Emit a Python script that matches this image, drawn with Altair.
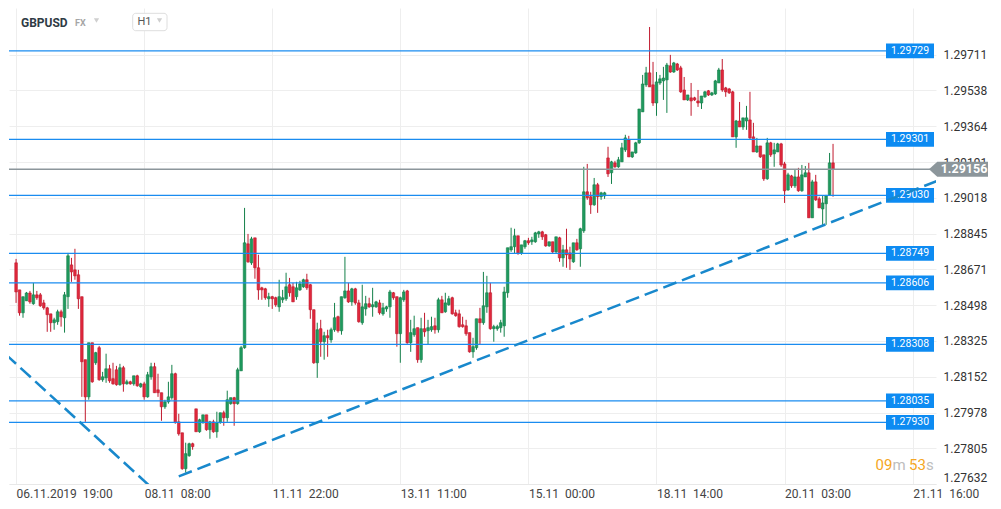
import altair as alt
import pandas as pd

# ---------------- data (GBPUSD H1 candles) ----------------
opens = [1.28703,1.28572,1.28461,1.28519,1.28557,1.28505,1.28548,1.28548,1.28509,1.28485,
1.28456,1.28413,1.28418,1.28466,1.28437,1.28539,1.28693,1.28669,1.28645,1.28539,
1.28234,1.28054,1.28316,1.28219,1.28292,1.28137,1.28146,1.28190,1.28142,1.28185,
1.28113,1.28195,1.28117,1.28127,1.28117,1.28156,1.28103,1.28117,1.28054,1.28151,
1.28200,1.28088,1.28074,1.28006,1.28030,1.28050,1.28166,1.27933,1.27880,1.27706,
1.27769,1.27827,1.27996,1.27885,1.27929,1.27967,1.27895,1.27933,1.27885,1.27929,
1.27977,1.27953,1.28021,1.28050,1.28021,1.28180,1.28292,1.28795,1.28703,1.28824,
1.28679,1.28582,1.28577,1.28529,1.28539,1.28534,1.28490,1.28524,1.28529,1.28597,
1.28587,1.28539,1.28572,1.28587,1.28621,1.28597,1.28476,1.28219,1.28384,1.28321,
1.28350,1.28330,1.28379,1.28442,1.28374,1.28534,1.28567,1.28514,1.28577,1.28509,
1.28413,1.28480,1.28505,1.28490,1.28490,1.28509,1.28456,1.28480,1.28490,1.28558,
1.28539,1.28360,1.28524,1.28567,1.28316,1.28355,1.28389,1.28234,1.28384,1.28374,
1.28379,1.28398,1.28379,1.28524,1.28466,1.28500,1.28534,1.28461,1.28456,1.28403,
1.28398,1.28365,1.28272,1.28292,1.28432,1.28413,1.28490,1.28558,1.28384,1.28384,
1.28389,1.28398,1.28558,1.28766,1.28781,1.28834,1.28751,1.28781,1.28810,1.28805,
1.28805,1.28843,1.28853,1.28839,1.28785,1.28805,1.28756,1.28824,1.28727,1.28766,
1.28751,1.28708,1.28800,1.28771,1.28858,1.29047,1.29023,1.28984,1.29081,1.29023,
1.29027,1.29211,1.29139,1.29187,1.29168,1.29192,1.29250,1.29298,1.29216,1.29235,
1.29284,1.29434,1.29565,1.29623,1.29565,1.29477,1.29574,1.29584,1.29589,1.29657,
1.29627,1.29666,1.29647,1.29540,1.29492,1.29502,1.29502,1.29487,1.29477,1.29507,
1.29536,1.29516,1.29521,1.29574,1.29637,1.29550,1.29545,1.29531,1.29313,1.29390,
1.29361,1.29390,1.29395,1.29313,1.29240,1.29269,1.29226,1.29110,1.29284,1.29231,
1.29240,1.29279,1.29182,1.29056,1.29124,1.29076,1.29119,1.29052,1.29119,1.29139,
1.28921,1.29095,1.29013,1.28964,1.28989,1.29032,1.29187]

highs = [1.28722,1.28572,1.28539,1.28562,1.28567,1.28606,1.28567,1.28557,1.28524,1.28490,
1.28456,1.28437,1.28476,1.28476,1.28562,1.28751,1.28727,1.28771,1.28669,1.28539,
1.28234,1.28316,1.28316,1.28272,1.28301,1.28175,1.28263,1.28209,1.28219,1.28204,
1.28214,1.28204,1.28137,1.28132,1.28156,1.28161,1.28122,1.28127,1.28175,1.28219,
1.28219,1.28166,1.28074,1.28040,1.28127,1.28209,1.28171,1.27972,1.27880,1.27832,
1.27832,1.27832,1.27996,1.27948,1.27967,1.27967,1.27938,1.27943,1.27982,1.27977,
1.27987,1.28084,1.28050,1.28054,1.28195,1.28301,1.28969,1.28843,1.28829,1.28824,
1.28742,1.28587,1.28582,1.28558,1.28543,1.28539,1.28621,1.28572,1.28655,1.28630,
1.28606,1.28611,1.28616,1.28626,1.28650,1.28601,1.28476,1.28413,1.28427,1.28369,
1.28379,1.28389,1.28509,1.28447,1.28539,1.28732,1.28606,1.28582,1.28582,1.28524,
1.28597,1.28543,1.28534,1.28582,1.28519,1.28524,1.28509,1.28495,1.28572,1.28562,
1.28539,1.28539,1.28572,1.28572,1.28427,1.28447,1.28389,1.28437,1.28461,1.28427,
1.28442,1.28437,1.28534,1.28543,1.28558,1.28543,1.28539,1.28476,1.28476,1.28442,
1.28427,1.28365,1.28340,1.28432,1.28485,1.28659,1.28640,1.28606,1.28403,1.28403,
1.28427,1.28587,1.28776,1.28873,1.28868,1.28834,1.28790,1.28814,1.28824,1.28829,
1.28853,1.28858,1.28858,1.28843,1.28805,1.28805,1.28829,1.28829,1.28790,1.28868,
1.28781,1.28800,1.28819,1.28873,1.29168,1.29182,1.29047,1.29114,1.29090,1.29047,
1.29047,1.29265,1.29197,1.29197,1.29216,1.29284,1.29323,1.29318,1.29240,1.29289,
1.29448,1.29613,1.29652,1.29845,1.29676,1.29627,1.29613,1.29652,1.29671,1.29710,
1.29676,1.29671,1.29657,1.29603,1.29516,1.29574,1.29507,1.29540,1.29511,1.29536,
1.29540,1.29531,1.29589,1.29647,1.29690,1.29555,1.29550,1.29536,1.29395,1.29482,
1.29405,1.29463,1.29531,1.29381,1.29308,1.29269,1.29226,1.29308,1.29289,1.29284,
1.29284,1.29284,1.29192,1.29139,1.29129,1.29153,1.29163,1.29177,1.29172,1.29187,
1.29105,1.29129,1.29023,1.29027,1.29032,1.29235,1.29279]

lows = [1.28509,1.28447,1.28437,1.28519,1.28505,1.28500,1.28524,1.28490,1.28476,1.28369,
1.28369,1.28379,1.28403,1.28394,1.28365,1.28480,1.28611,1.28621,1.28480,1.28054,
1.27933,1.28040,1.28122,1.28209,1.28132,1.28127,1.28122,1.28122,1.28113,1.28108,
1.28108,1.28079,1.28113,1.28113,1.28108,1.28103,1.28098,1.28040,1.28050,1.28137,
1.28074,1.28054,1.27938,1.27996,1.28021,1.28040,1.27924,1.27866,1.27701,1.27687,
1.27764,1.27798,1.27885,1.27880,1.27924,1.27890,1.27851,1.27880,1.27856,1.27924,
1.27914,1.27933,1.28016,1.27914,1.28016,1.28180,1.28287,1.28703,1.28693,1.28626,
1.28524,1.28524,1.28524,1.28490,1.28480,1.28490,1.28466,1.28509,1.28519,1.28539,
1.28514,1.28524,1.28567,1.28582,1.28572,1.28432,1.28214,1.28146,1.28248,1.28234,
1.28248,1.28316,1.28369,1.28365,1.28355,1.28529,1.28509,1.28495,1.28500,1.28413,
1.28403,1.28447,1.28485,1.28442,1.28485,1.28452,1.28447,1.28466,1.28437,1.28524,
1.28297,1.28219,1.28514,1.28311,1.28272,1.28345,1.28219,1.28219,1.28345,1.28306,
1.28369,1.28360,1.28365,1.28461,1.28461,1.28495,1.28452,1.28442,1.28389,1.28389,
1.28350,1.28268,1.28243,1.28282,1.28306,1.28403,1.28461,1.28379,1.28321,1.28374,
1.28365,1.28345,1.28534,1.28756,1.28747,1.28742,1.28742,1.28771,1.28790,1.28790,
1.28800,1.28824,1.28814,1.28781,1.28781,1.28751,1.28751,1.28708,1.28684,1.28679,
1.28669,1.28703,1.28761,1.28684,1.28848,1.29008,1.28940,1.28979,1.28945,1.29008,
1.29013,1.29119,1.29085,1.29163,1.29163,1.29192,1.29240,1.29216,1.29211,1.29231,
1.29279,1.29434,1.29555,1.29555,1.29463,1.29415,1.29565,1.29492,1.29429,1.29623,
1.29623,1.29632,1.29526,1.29492,1.29487,1.29415,1.29487,1.29458,1.29448,1.29502,
1.29511,1.29511,1.29516,1.29574,1.29531,1.29507,1.29521,1.29313,1.29260,1.29361,
1.29347,1.29347,1.29298,1.29240,1.29235,1.29211,1.29100,1.29105,1.29216,1.29168,
1.29240,1.29168,1.28993,1.29052,1.29066,1.29066,1.29047,1.29047,1.29119,1.28921,
1.28921,1.29003,1.28969,1.28882,1.28887,1.29027,1.29023]

closes = [1.28562,1.28461,1.28539,1.28557,1.28514,1.28548,1.28534,1.28495,1.28485,1.28452,
1.28413,1.28427,1.28466,1.28442,1.28548,1.28737,1.28659,1.28640,1.28529,1.28224,
1.28054,1.28316,1.28127,1.28268,1.28137,1.28151,1.28190,1.28132,1.28117,1.28113,
1.28195,1.28117,1.28127,1.28117,1.28156,1.28108,1.28117,1.28054,1.28161,1.28200,
1.28074,1.28074,1.28006,1.28030,1.28054,1.28166,1.27929,1.27875,1.27706,1.27779,
1.27827,1.27813,1.27885,1.27943,1.27967,1.27895,1.27933,1.27885,1.27929,1.27977,
1.27953,1.28040,1.28050,1.28021,1.28185,1.28292,1.28800,1.28708,1.28819,1.28679,
1.28572,1.28572,1.28534,1.28539,1.28529,1.28500,1.28539,1.28534,1.28587,1.28558,
1.28514,1.28582,1.28601,1.28621,1.28582,1.28476,1.28219,1.28379,1.28321,1.28350,
1.28340,1.28379,1.28437,1.28374,1.28539,1.28567,1.28514,1.28577,1.28509,1.28418,
1.28490,1.28505,1.28490,1.28500,1.28514,1.28461,1.28485,1.28490,1.28562,1.28534,
1.28360,1.28534,1.28562,1.28316,1.28365,1.28384,1.28234,1.28384,1.28369,1.28389,
1.28394,1.28379,1.28524,1.28461,1.28509,1.28529,1.28456,1.28447,1.28394,1.28394,
1.28360,1.28272,1.28297,1.28432,1.28413,1.28495,1.28558,1.28384,1.28394,1.28394,
1.28413,1.28562,1.28776,1.28781,1.28834,1.28751,1.28790,1.28810,1.28800,1.28814,
1.28848,1.28853,1.28829,1.28785,1.28805,1.28756,1.28829,1.28727,1.28766,1.28742,
1.28722,1.28800,1.28766,1.28868,1.29047,1.29018,1.28984,1.29081,1.29023,1.29042,
1.29042,1.29134,1.29192,1.29168,1.29202,1.29260,1.29308,1.29216,1.29240,1.29284,
1.29448,1.29569,1.29623,1.29555,1.29477,1.29579,1.29594,1.29598,1.29661,1.29627,
1.29671,1.29637,1.29531,1.29492,1.29516,1.29487,1.29492,1.29477,1.29511,1.29531,
1.29516,1.29526,1.29584,1.29637,1.29540,1.29531,1.29526,1.29313,1.29390,1.29361,
1.29405,1.29405,1.29308,1.29240,1.29269,1.29216,1.29110,1.29284,1.29226,1.29250,
1.29279,1.29177,1.29052,1.29129,1.29076,1.29119,1.29052,1.29129,1.29139,1.28921,
1.29095,1.29008,1.28969,1.28993,1.29027,1.29187,1.29156]

level_prices = [1.29729, 1.29301, 1.29030, 1.28749, 1.28606, 1.28308, 1.28035, 1.27930]
current_price = [1.29156]

y_ticks = [1.27632, 1.27805, 1.27978, 1.28152, 1.28325, 1.28498, 1.28671, 1.28845,
           1.29018, 1.29191, 1.29364, 1.29538, 1.29711]
x_tick_idx = [0, 37, 74, 111, 148, 185, 222, 259]
x_tick_text = ["06.11.2019\u00a0\u00a019:00", "08.11\u00a0\u00a008:00", "11.11\u00a0\u00a022:00",
               "13.11\u00a0\u00a011:00", "15.11\u00a0\u00a000:00", "18.11\u00a0\u00a014:00",
               "20.11\u00a0\u00a003:00", "21.11\u00a0\u00a016:00"]

trend_id = ["down", "down", "up", "up"]
trend_idx = [-3.0, 40.0, 47.0, 266.0]
trend_price = [1.28260, 1.27601, 1.27669, 1.29099]

# ---------------- tables ----------------
n = len(opens)
candles = pd.DataFrame({"i": list(range(n)), "open": opens, "high": highs,
                        "low": lows, "close": closes})
candles["high"] = candles[["high", "open", "close"]].max(axis=1)
candles["low"] = candles[["low", "open", "close"]].min(axis=1)
candles["dir"] = ["up" if c >= o else "down" for o, c in zip(opens, closes)]

levels = pd.DataFrame({"price": level_prices})
cur = pd.DataFrame({"price": current_price})
trend = pd.DataFrame({"line": trend_id, "i": trend_idx, "price": trend_price})
one = pd.DataFrame({"a": [0]})

FONT = "Roboto"
XS = alt.Scale(domain=[-0.6, 264.3], nice=False, zero=False)
YS = alt.Scale(domain=[1.27632, 1.29937], nice=False, zero=False)

label_expr = " : ".join(f"datum.value == {v} ? '{t}'" for v, t in zip(x_tick_idx, x_tick_text)) + " : ''"

X_AXIS = alt.Axis(values=x_tick_idx, labelExpr=label_expr, grid=True, gridColor="#eeeeee",
                  ticks=False, domain=True, domainColor="#e8e8e8", labelAlign="left",
                  labelFontSize=12, labelColor="#444444", labelFont=FONT, labelPadding=4,
                  title=None, labelFlush=False, labelOverlap=False, labelBound=False)
Y_AXIS = alt.Axis(orient="right", values=y_ticks, format=".5f", grid=True, gridColor="#eeeeee",
                  ticks=False, domain=False, labelFontSize=12, labelColor="#333333",
                  labelFont=FONT, labelPadding=7, title=None, labelOverlap=False,
                  labelFlush=True)


def X(field):
    return alt.X(field, scale=XS, axis=X_AXIS, title=None)


def Y(field):
    return alt.Y(field, scale=YS, axis=Y_AXIS, title=None)


dir_color = alt.Scale(domain=["up", "down"], range=["#14804a", "#c01a2e"])
dir_fill = alt.Scale(domain=["up", "down"], range=["#1f9a5e", "#e0283c"])

wicks = alt.Chart(candles).mark_rule(strokeWidth=1).encode(
    x=X("i:Q"), y=Y("low:Q"), y2="high:Q",
    color=alt.Color("dir:N", scale=dir_color, legend=None),
)

bodies = alt.Chart(candles).mark_bar(size=2.6, strokeWidth=0.6).encode(
    x=X("i:Q"), y=Y("open:Q"), y2="close:Q",
    fill=alt.Fill("dir:N", scale=dir_fill, legend=None),
    stroke=alt.Stroke("dir:N", scale=dir_color, legend=None),
)

BLUE = "#0d8bf2"
level_rules = alt.Chart(levels).mark_rule(color="#1a8cf0", strokeWidth=1.3).encode(
    y=Y("price:Q"), x=alt.value(0), x2=alt.value(877),
)

BOX = "M-1,-0.306L1,-0.306L1,0.306L-1,0.306Z"
level_boxes = alt.Chart(levels).mark_point(shape=BOX, filled=True, size=2304, opacity=1,
                                           color=BLUE, strokeWidth=0).encode(
    y=Y("price:Q"), x=alt.value(901),
)
level_text = alt.Chart(levels).mark_text(font=FONT, fontSize=10.5, color="white",
                                         align="center", baseline="middle").encode(
    y=Y("price:Q"), x=alt.value(901),
    text=alt.Text("price:Q", format=".5f"),
)

GRAY = "#8c969b"
price_rule = alt.Chart(cur).mark_rule(color=GRAY, strokeWidth=1.5).encode(
    y=Y("price:Q"), x=alt.value(0), x2=alt.value(922),
)

trendlines = alt.Chart(trend).mark_line(strokeDash=[14, 6], strokeWidth=2.5,
                                        color="#1888cc", clip=True).encode(
    x=X("i:Q"), y=Y("price:Q"), detail="line:N",
)

TAG = "M-1,0L-0.72,-0.254L1,-0.254L1,0.254L-0.72,0.254Z"
tag = alt.Chart(cur).mark_point(shape=TAG, filled=True, size=3481, opacity=1,
                                color=GRAY, strokeWidth=0).encode(
    y=Y("price:Q"), x=alt.value(949.5),
)
tag_text = alt.Chart(cur).mark_text(font=FONT, fontSize=12.5, fontWeight="bold", color="white",
                                    align="center", baseline="middle").encode(
    y=Y("price:Q"), x=alt.value(955),
    text=alt.Text("price:Q", format=".5f"),
)

# ---------------- header and timer ----------------
hdr_symbol = alt.Chart(one).mark_text(text="GBPUSD", font=FONT, fontSize=12, fontWeight="bold",
                                      color="#2f3b45", align="left", baseline="middle").encode(
    x=alt.value(12), y=alt.value(14.5))
hdr_fx = alt.Chart(one).mark_text(text="FX", font=FONT, fontSize=9, fontWeight="bold",
                                  color="#a6a6a6", align="left", baseline="middle").encode(
    x=alt.value(66), y=alt.value(14.5))
hdr_tri1 = alt.Chart(one).mark_point(shape="triangle-down", filled=True, size=28, opacity=1,
                                     color="#cfcfcf").encode(x=alt.value(87.5), y=alt.value(12.5))
hdr_box = alt.Chart(one).mark_rect(fill="white", stroke="#dedede", strokeWidth=1,
                                   cornerRadius=3).encode(
    x=alt.value(123.7), x2=alt.value(158), y=alt.value(5.3), y2=alt.value(22.7))
hdr_h1 = alt.Chart(one).mark_text(text="H1", font=FONT, fontSize=11, color="#555555",
                                  align="left", baseline="middle").encode(
    x=alt.value(128.5), y=alt.value(14.3))
hdr_tri2 = alt.Chart(one).mark_point(shape="triangle-down", filled=True, size=28, opacity=1,
                                     color="#cfcfcf").encode(x=alt.value(150.5), y=alt.value(12.5))

ORANGE = "#f5a623"
t1 = alt.Chart(one).mark_text(text="09", font=FONT, fontSize=15, color=ORANGE, align="left",
                              baseline="middle").encode(x=alt.value(866.5), y=alt.value(456.5))
t2 = alt.Chart(one).mark_text(text="m", font=FONT, fontSize=15, color="#bdbdbd", align="left",
                              baseline="middle").encode(x=alt.value(883.5), y=alt.value(456.5))
t3 = alt.Chart(one).mark_text(text="53", font=FONT, fontSize=15, color=ORANGE, align="left",
                              baseline="middle").encode(x=alt.value(900), y=alt.value(456.5))
t4 = alt.Chart(one).mark_text(text="s", font=FONT, fontSize=15, color="#bdbdbd", align="left",
                              baseline="middle").encode(x=alt.value(917), y=alt.value(456.5))

chart = alt.layer(
    wicks, bodies, level_rules, price_rule, level_boxes, level_text, trendlines, tag, tag_text,
    hdr_symbol, hdr_fx, hdr_tri1, hdr_box, hdr_h1, hdr_tri2, t1, t2, t3, t4,
).properties(width=927, height=476, padding=0, background="white").configure_view(stroke=None)

chart.save("out.html", embed_options={"renderer": "svg", "actions": False})
